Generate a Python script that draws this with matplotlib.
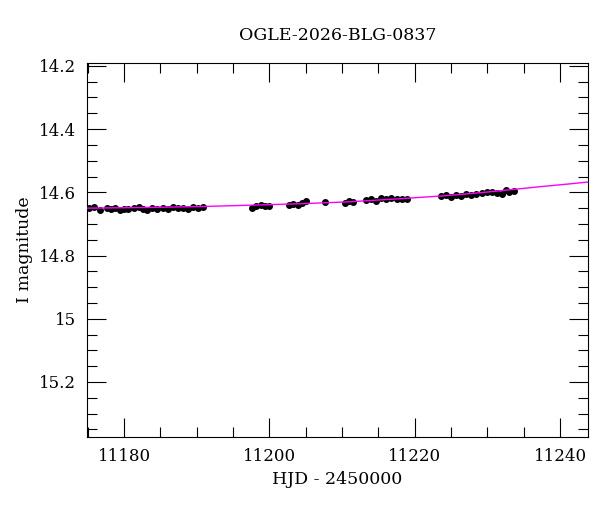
import matplotlib
matplotlib.use("Agg")
import matplotlib.pyplot as plt
from matplotlib.ticker import MultipleLocator

# OGLE photometry (HJD - 2450000, I mag, error)
hjd = [11175.2, 11175.8, 11176.7, 11177.6, 11178.2, 11178.8, 11179.4, 11180.0,
       11180.6, 11181.3, 11182.0, 11182.6, 11183.2, 11183.9, 11184.6, 11185.3,
       11186.0, 11186.7, 11187.4, 11188.1, 11188.8, 11189.5, 11190.2, 11190.9,
       11197.6, 11198.2, 11198.8, 11199.4, 11200.0,
       11202.7, 11203.3, 11203.9, 11204.5, 11205.1, 11207.7,
       11210.4, 11210.9, 11211.5, 11213.3, 11214.0, 11214.7, 11215.4, 11216.1,
       11216.8, 11217.5, 11218.2, 11218.9,
       11223.6, 11224.3, 11225.0, 11225.7, 11226.4, 11227.1, 11227.8, 11228.5,
       11229.2, 11229.9, 11230.6, 11231.3, 11232.0, 11232.5, 11233.0, 11233.6]
mag = [14.650, 14.648, 14.656, 14.651, 14.654, 14.650, 14.655, 14.652,
       14.654, 14.651, 14.648, 14.652, 14.656, 14.650, 14.654, 14.649,
       14.652, 14.648, 14.651, 14.649, 14.652, 14.646, 14.650, 14.648,
       14.650, 14.643, 14.641, 14.643, 14.644,
       14.641, 14.638, 14.640, 14.634, 14.628, 14.631,
       14.633, 14.628, 14.632, 14.624, 14.620, 14.626, 14.618, 14.622,
       14.619, 14.621, 14.620, 14.622,
       14.612, 14.609, 14.614, 14.610, 14.612, 14.606, 14.608, 14.604,
       14.602, 14.598, 14.600, 14.601, 14.604, 14.593, 14.599, 14.596]
err = [0.005] * len(hjd)

# model curve
model_t = [11175.0, 11183.0, 11190.5, 11197.0, 11204.3, 11211.0, 11218.1,
           11224.0, 11229.1, 11233.5, 11237.3, 11241.0, 11244.0]
model_mag = [14.650, 14.648, 14.645, 14.641, 14.636, 14.630, 14.620,
             14.611, 14.601, 14.591, 14.582, 14.574, 14.567]

plt.rcParams['font.family'] = ['DejaVu Serif']

fig = plt.figure(figsize=(6, 5.12), dpi=100)
ax = fig.add_axes([0.145, 0.1465, 0.835, 0.731])

ax.errorbar(hjd, mag, yerr=err, fmt='o', ms=4, color='black',
            elinewidth=1.2, capsize=0, zorder=2)
ax.plot(model_t, model_mag, color='#ff00ff', lw=1, zorder=3)

ax.set_xlim(11174.9, 11243.85)
ax.set_ylim(15.374, 14.19)

ax.xaxis.set_major_locator(MultipleLocator(20))
ax.xaxis.set_minor_locator(MultipleLocator(5))
ax.yaxis.set_major_locator(MultipleLocator(0.2))
ax.yaxis.set_minor_locator(MultipleLocator(0.05))
ax.yaxis.set_major_formatter(plt.FuncFormatter(lambda v, p: f"{v:g}"))

ax.tick_params(which='both', direction='in', top=True, right=True,
               labelsize=12, width=0.8, pad=8)
ax.tick_params(which='major', length=14)
ax.tick_params(which='minor', length=7)

ax.set_title('OGLE-2026-BLG-0837', fontsize=12.5, pad=16)
ax.set_xlabel('HJD - 2450000', fontsize=12.5)
ax.set_ylabel('I magnitude', fontsize=12.5)

fig.savefig('out.png', dpi=100)
